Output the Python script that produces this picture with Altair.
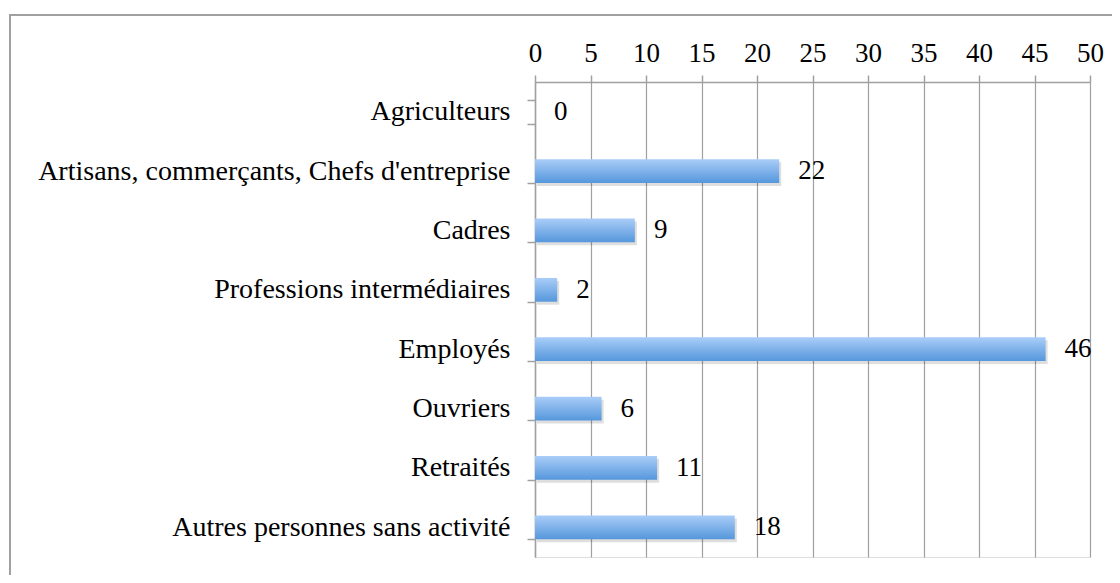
import altair as alt
import pandas as pd

categories = ["Agriculteurs", "Artisans, commerçants, Chefs d'entreprise", "Cadres",
              "Professions intermédiaires", "Employés", "Ouvriers", "Retraités",
              "Autres personnes sans activité"]
values = [0, 22, 9, 2, 46, 6, 11, 18]
x_ticks = [0, 5, 10, 15, 20, 25, 30, 35, 40, 45, 50]

df = pd.DataFrame({"cat": categories, "val": values})

FONT = "Liberation Serif"
FS = 28
FS_NUM = 27
GRID = "#a0a0a0"

y_enc = alt.Y("cat:N", sort=categories,
              scale=alt.Scale(paddingInner=0.6, paddingOuter=0.3),
              axis=alt.Axis(title=None, orient="left", tickBand="extent", tickSize=8,
                            labelPadding=17, domainColor=GRID, tickColor=GRID,
                            domainWidth=1.5, tickWidth=1.5,
                            labelFont=FONT, labelFontSize=FS, labelColor="black",
                            labelLimit=600, grid=False))
x_enc = alt.X("val:Q", scale=alt.Scale(domain=[0, 50], nice=False),
              axis=alt.Axis(title=None, orient="top", values=x_ticks, tickSize=7,
                            labelPadding=8, domainColor=GRID, tickColor=GRID,
                            domainWidth=1.5, tickWidth=1.5, gridWidth=1.2,
                            gridColor=GRID, grid=True, labelFont=FONT, labelFontSize=FS_NUM,
                            labelColor="black", labelFlush=False))

gradient = alt.Gradient(gradient="linear",
                        stops=[alt.GradientStop(color="#aacdf8", offset=0),
                               alt.GradientStop(color="#5597dc", offset=1)],
                        x1=0, x2=0, y1=0, y2=1)

shadow = alt.Chart(df).mark_bar(color="#000000", opacity=0.13, xOffset=2, yOffset=3).encode(
    x=alt.X("val:Q"), y=alt.Y("cat:N", sort=categories))
bars = alt.Chart(df).mark_bar(color=gradient).encode(x=x_enc, y=y_enc)
labels = alt.Chart(df).mark_text(align="left", baseline="middle", dx=19, font=FONT,
                                 fontSize=FS_NUM, color="black").encode(
    x="val:Q", y=alt.Y("cat:N", sort=categories), text="val:Q")

border = alt.Chart(pd.DataFrame({"a": [0]})).mark_rect(
    fill="transparent", stroke="#a0a0a0", strokeWidth=2).encode(
    x=alt.value(-525), x2=alt.value(590), y=alt.value(-67), y2=alt.value(515))

chart = alt.layer(border, shadow, bars, labels).properties(
    width=555, height=475,
    padding={"left": 527, "top": 74, "right": 22, "bottom": 18},
    autosize=alt.AutoSizeParams(type="none")
).configure_view(stroke=None).configure(background="white")

chart.save("out.html", embed_options={"renderer": "svg", "actions": False})
